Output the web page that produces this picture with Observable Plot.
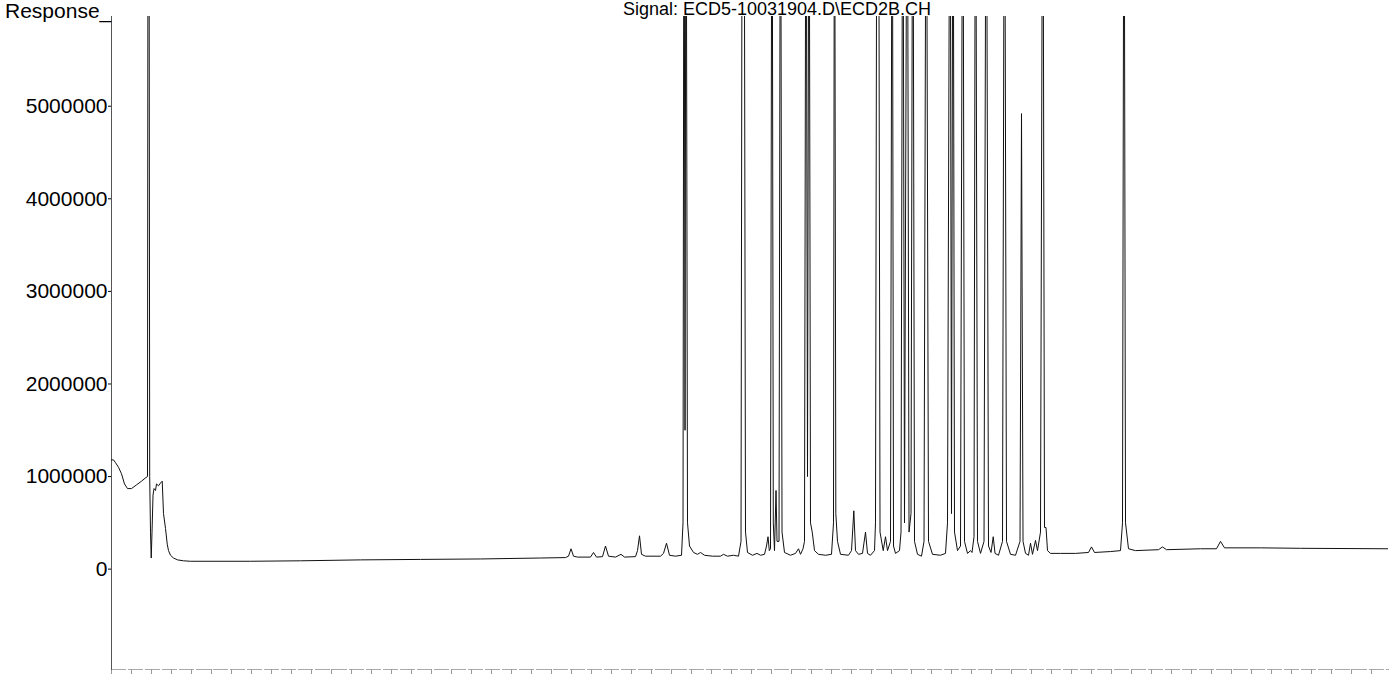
<!DOCTYPE html>
<html>
<head>
<meta charset="utf-8">
<script src="https://cdn.jsdelivr.net/npm/d3@7"></script>
<script src="https://cdn.jsdelivr.net/npm/@observablehq/plot@0.6"></script>
<style>
  html, body { margin: 0; padding: 0; background: #fff; }
  #wrap { position: relative; width: 1396px; height: 677px; overflow: hidden; font-family: "Liberation Sans", Arial, sans-serif; }
  #wrap svg { position: absolute; left: 0; top: 0; }
  .lbl { position: absolute; line-height: 1; white-space: nowrap; color: #000; }
</style>
</head>
<body>
<div id="wrap"></div>
<script>
// Chromatogram text
const yAxisTitle = "Response_";
const signalTitle = "Signal: ECD5-10031904.D\\ECD2B.CH";

// Retention time (min) of each vertex of the trace
const traceTimes = [
  0, 0.05, 0.1, 0.175, 0.25, 0.325, 0.4, 0.5, 0.625, 0.75, 0.863, 0.9,
  0.915, 0.935, 0.955, 0.975, 0.993, 1.013, 1.038, 1.063, 1.1, 1.125, 1.175, 1.225, 1.268,
  1.3, 1.35, 1.393, 1.425, 1.475, 1.55, 1.65, 1.8, 1.975,
  3.475, 4.725, 6.225, 7.725, 9.225, 10.725,
  11.35, 11.425, 11.488, 11.55, 11.65, 11.975, 12.05, 12.125, 12.275, 12.35, 12.425,
  12.6, 12.738, 12.825, 13.1, 13.15, 13.2, 13.25, 13.35, 13.725, 13.8, 13.875, 13.95,
  14.1, 14.25, 14.288, 14.313, 14.338, 14.363, 14.4, 14.45, 14.55, 14.65, 14.725, 14.825,
  15.025, 15.225, 15.3, 15.4, 15.55, 15.675, 15.738, 15.77, 15.813, 15.85, 15.9,
  16.025, 16.138, 16.225, 16.325, 16.375, 16.413, 16.445, 16.475, 16.513, 16.545, 16.575,
  16.613, 16.638, 16.688, 16.725, 16.763, 16.825, 16.975, 17.1, 17.175, 17.225, 17.288,
  17.325, 17.363, 17.4, 17.438, 17.475, 17.518, 17.575, 17.675, 17.85, 18.0,
  18.05, 18.075, 18.108, 18.15, 18.225, 18.425, 18.5, 18.558, 18.6, 18.675, 18.775,
  18.85, 18.9, 18.975, 19.075, 19.1, 19.138, 19.175, 19.213, 19.293, 19.35, 19.4,
  19.475, 19.518, 19.55, 19.6, 19.7, 19.738, 19.783, 19.825, 19.893, 19.938, 19.988,
  20.033, 20.075, 20.15, 20.25, 20.313, 20.368, 20.425, 20.525, 20.725, 20.85, 20.9,
  20.963, 21.0, 21.038, 21.075, 21.15, 21.225, 21.283, 21.325, 21.4, 21.475, 21.513,
  21.563, 21.6, 21.65, 21.725, 21.813, 21.868, 21.925, 21.988, 22.043, 22.088, 22.175,
  22.275, 22.325, 22.375, 22.475, 22.6, 22.713, 22.75, 22.788, 22.85, 22.925, 22.975,
  23.025, 23.1, 23.15, 23.225, 23.283, 23.325, 23.363, 23.4, 23.475, 23.725, 24.1,
  24.425, 24.5, 24.575, 24.975, 25.225, 25.275, 25.313, 25.35, 25.425, 25.6,
  26.175, 26.275, 26.375, 27.225, 27.625, 27.725, 27.825, 28.725, 29.725, 31.925
];

// Detector response at each vertex (off-scale peaks carry a large value and are clipped)
const traceResponses = [
  1.18e6, 1.18e6, 1.15e6, 1.10e6, 1.03e6, 0.92e6, 0.87e6, 0.87e6, 0.91e6, 0.95e6, 0.99e6, 1.00e6,
  9e6, 9e6, 1.0e6, 0.40e6, 0.12e6, 0.40e6, 0.80e6, 0.87e6, 0.85e6, 0.92e6, 0.90e6, 0.93e6, 0.95e6,
  0.60e6, 0.44e6, 0.27e6, 0.20e6, 0.15e6, 0.12e6, 0.10e6, 0.09e6, 0.085e6,
  0.085e6, 0.09e6, 0.10e6, 0.105e6, 0.11e6, 0.12e6,
  0.125e6, 0.14e6, 0.22e6, 0.14e6, 0.13e6, 0.13e6, 0.18e6, 0.13e6, 0.135e6, 0.25e6, 0.14e6,
  0.13e6, 0.16e6, 0.13e6, 0.135e6, 0.20e6, 0.36e6, 0.16e6, 0.14e6, 0.14e6, 0.17e6, 0.28e6, 0.15e6,
  0.14e6, 0.15e6, 0.5e6, 9e6, 1.5e6, 9e6, 0.5e6, 0.25e6, 0.18e6, 0.16e6, 0.18e6, 0.15e6,
  0.14e6, 0.14e6, 0.16e6, 0.14e6, 0.15e6, 0.14e6, 0.3e6, 9e6, 9e6, 0.4e6, 0.18e6,
  0.15e6, 0.17e6, 0.15e6, 0.16e6, 0.25e6, 0.35e6, 0.2e6, 0.22e6, 9e6, 0.5e6, 0.2e6,
  0.85e6, 0.3e6, 0.3e6, 9e6, 0.4e6, 0.18e6, 0.15e6, 0.17e6, 0.22e6, 0.16e6, 0.22e6,
  0.3e6, 9e6, 1.0e6, 9e6, 0.5e6, 0.4e6, 0.2e6, 0.16e6, 0.15e6, 0.16e6,
  0.5e6, 9e6, 0.6e6, 0.3e6, 0.16e6, 0.15e6, 0.2e6, 0.63e6, 0.2e6, 0.16e6, 0.17e6,
  0.40e6, 0.17e6, 0.15e6, 0.2e6, 0.5e6, 9e6, 9e6, 0.4e6, 0.2e6, 0.35e6, 0.2e6,
  0.3e6, 9e6, 0.25e6, 0.17e6, 0.2e6, 0.4e6, 9e6, 0.5e6, 9e6, 0.4e6, 0.6e6,
  9e6, 0.3e6, 0.16e6, 0.14e6, 0.3e6, 9e6, 0.3e6, 0.16e6, 0.15e6, 0.17e6, 0.5e6,
  9e6, 0.6e6, 9e6, 0.4e6, 0.2e6, 0.25e6, 9e6, 0.3e6, 0.17e6, 0.2e6, 0.18e6,
  0.35e6, 9e6, 0.3e6, 0.17e6, 0.3e6, 9e6, 0.25e6, 0.18e6, 0.35e6, 0.17e6, 0.15e6,
  0.3e6, 9e6, 0.3e6, 0.16e6, 0.15e6, 0.3e6, 4.92e6, 0.3e6, 0.17e6, 0.15e6, 0.28e6,
  0.16e6, 0.31e6, 0.2e6, 0.4e6, 9e6, 0.45e6, 0.45e6, 0.2e6, 0.17e6, 0.17e6, 0.17e6,
  0.18e6, 0.24e6, 0.18e6, 0.19e6, 0.2e6, 0.5e6, 9e6, 0.5e6, 0.22e6, 0.2e6,
  0.21e6, 0.24e6, 0.21e6, 0.22e6, 0.22e6, 0.3e6, 0.23e6, 0.23e6, 0.225e6, 0.22e6
];

// Axis settings
const yTickValues = [0, 1000000, 2000000, 3000000, 4000000, 5000000];
const xDomain = [0, 31.925];
const yDomain = [-1084000, 5969000];
const xTickValues = d3.range(0, 32, 0.5);

const trace = traceTimes.map((t, i) => ({t, r: traceResponses[i]}));

const chart = Plot.plot({
  width: 1396,
  height: 677,
  marginLeft: 111,
  marginRight: 8,
  marginTop: 16,
  marginBottom: 8,
  style: {fontFamily: "'Liberation Sans', Arial, sans-serif", fontSize: "21px", background: "#fff", color: "#000"},
  x: {domain: xDomain},
  y: {domain: yDomain},
  marks: [
    Plot.frame({anchor: "bottom", stroke: "#aaa", strokeDasharray: "14,3"}),
    Plot.axisX({ticks: xTickValues, tickFormat: () => "", tickSize: 5, stroke: "#999", label: null}),
    Plot.frame({anchor: "left", stroke: "#555"}),
    Plot.axisY({ticks: yTickValues, tickFormat: d3.format("d"), tickSize: 3, tickPadding: 1, label: null, fontSize: 21, fill: "#000"}),
    Plot.line(trace, {x: "t", y: "r", stroke: "#111", strokeWidth: 1, clip: true})
  ]
});

const wrap = document.getElementById("wrap");
wrap.appendChild(chart);

const t1 = document.createElement("div");
t1.className = "lbl";
t1.textContent = yAxisTitle;
t1.style.fontSize = "21px";
t1.style.left = "5px";
t1.style.top = "0px";
wrap.appendChild(t1);

const t2 = document.createElement("div");
t2.className = "lbl";
t2.textContent = signalTitle;
t2.style.fontSize = "18px";
t2.style.left = "777px";
t2.style.top = "0px";
t2.style.transform = "translateX(-50%)";
wrap.appendChild(t2);
</script>
</body>
</html>
